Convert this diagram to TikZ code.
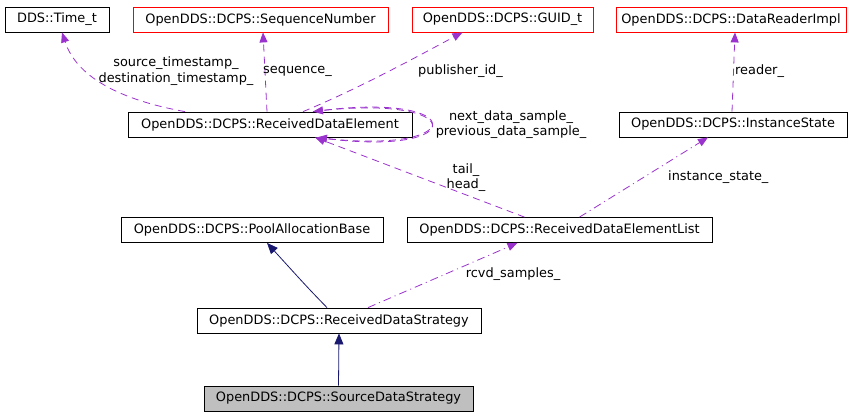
\documentclass[tikz,border=0pt]{standalone}
\usepackage{fontspec}
\setmainfont{DejaVu Sans}
\usepackage{tikz}
\usetikzlibrary{arrows.meta,positioning,calc}
\definecolor{usepurple}{RGB}{154,50,205}
\definecolor{inhnavy}{RGB}{25,25,112}
\definecolor{selfgrey}{RGB}{191,191,191}
\tikzset{
  base/.style={font=\fontsize{12.9}{15.5}\selectfont, align=center, inner sep=0pt, text=black},
  cls/.style={base, rectangle, draw=black, fill=white, line width=0.8pt, minimum height=25pt},
  ext/.style={cls, draw=red},
  self/.style={cls, fill=selfgrey},
  lbl/.style={base},
  use/.style={draw=usepurple, line width=0.8pt, dash pattern=on 7pt off 5pt, -{Triangle[length=10pt,width=8pt]}},
  usedot/.style={use, dash pattern=on 8pt off 4pt on 1pt off 4pt},
  inh/.style={draw=inhnavy, line width=0.8pt, -{Triangle[length=11pt,width=9pt]}},
}
\begin{document}
\begin{tikzpicture}[x=1pt,y=-1pt]
  \useasboundingbox (0,0) rectangle (864,416);
  % classes
  \node[cls,minimum width=104pt] (time)   at (57,19.5)    {DDS::Time\_t};
  \node[ext,minimum width=255pt] (seqno)  at (260.5,19.5) {OpenDDS::DCPS::SequenceNumber};
  \node[ext,minimum width=181pt] (guid)   at (502.5,19.5) {OpenDDS::DCPS::GUID\_t};
  \node[ext,minimum width=230pt] (reader) at (731,19.5)   {OpenDDS::DCPS::DataReaderImpl};
  \node[cls,minimum width=284pt] (rde)    at (270,124.5)  {OpenDDS::DCPS::ReceivedDataElement};
  \node[cls,minimum width=228pt] (inst)   at (733,124.5)  {OpenDDS::DCPS::InstanceState};
  \node[cls,minimum width=262pt] (pool)   at (252,230)    {OpenDDS::DCPS::PoolAllocationBase};
  \node[cls,minimum width=305pt] (rdel)   at (559.5,230)  {OpenDDS::DCPS::ReceivedDataElementList};
  \node[cls,minimum width=284pt] (rds)    at (339,320.5)  {OpenDDS::DCPS::ReceivedDataStrategy};
  \node[self,minimum width=269pt] (src)   at (338.5,398.5) {OpenDDS::DCPS::SourceDataStrategy};
  % members
  \draw[use] ([xshift=-85pt]rde.north) .. controls (110,98) and (75,72) .. ([xshift=5pt]time.south);
  \draw[use] ([xshift=-3pt]rde.north) -- ([xshift=2.5pt]seqno.south);
  \draw[use] ([xshift=33pt]rde.north) .. controls (360,88) and (420,55) .. ([xshift=-40pt]guid.south);
  \draw[use] ([xshift=43pt]rde.north) .. controls (470,92) and (470,157) .. ([xshift=47pt]rde.south);
  \draw[use] ([xshift=47pt]rde.south) .. controls (470,157) and (470,92) .. ([xshift=43pt]rde.north);
  \draw[use] ([xshift=-35pt]rdel.north) -- ([xshift=45pt]rde.south);
  \draw[usedot] ([xshift=20pt]rdel.north) -- ([xshift=-25pt]inst.south);
  \draw[use] ([xshift=-1pt]inst.north) -- ([xshift=4pt]reader.south);
  \draw[usedot] ([xshift=29pt]rds.north) -- ([xshift=-42pt]rdel.south);
  % inheritance
  \draw[inh] ([xshift=-12pt]rds.north) .. controls (308,288) .. ([xshift=15pt]pool.south);
  \draw[inh] (src.north) -- (rds.south);
  % labels
  \node[lbl] (tslbl) at (176,71) {source\_timestamp\_\\destination\_timestamp\_};
  \node[lbl,anchor=west] (seqlbl) at (263,71) {sequence\_};
  \node[lbl,anchor=west] (publbl) at (418,71) {publisher\_id\_};
  \node[lbl] (nxtlbl) at (511,124.5) {next\_data\_sample\_\\previous\_data\_sample\_};
  \node[lbl] (taillbl) at (466,177.5) {tail\_\\head\_};
  \node[lbl,anchor=west] (instlbl) at (668,177) {instance\_state\_};
  \node[lbl,anchor=west] (rdrlbl) at (735,71) {reader\_};
  \node[lbl] (rcvdlbl) at (513,274) {rcvd\_samples\_};
\end{tikzpicture}
\end{document}
